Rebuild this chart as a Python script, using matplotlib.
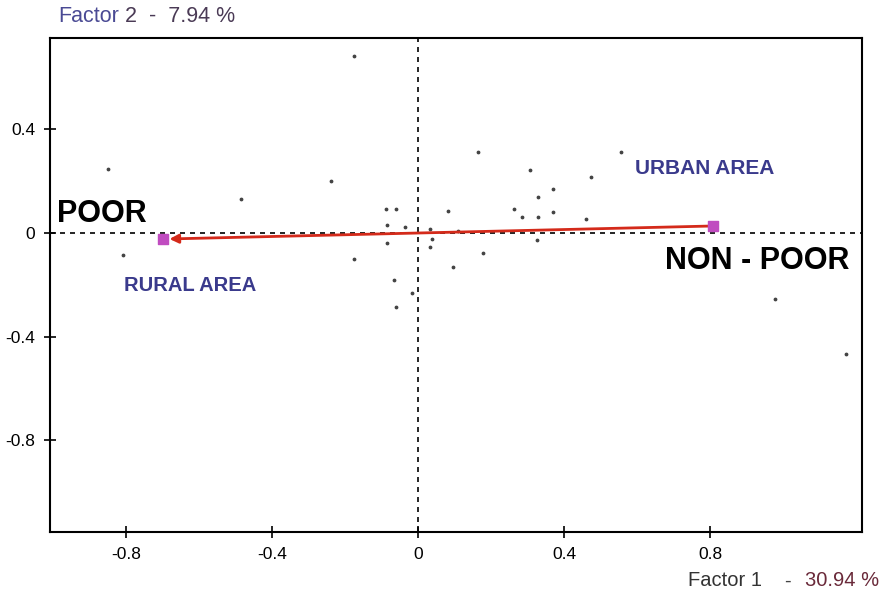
import numpy as np
import matplotlib.pyplot as plt

plt.rcParams["font.family"] = ["Liberation Sans", "DejaVu Sans"]

# supplementary points (factor 1, factor 2)
pts_x = [-0.175, -0.849, -0.485, -0.238, -0.808, 0.164, 0.307, 0.474, 0.370, 0.329,
         -0.088, -0.060, 0.082, 0.263, 0.285, 0.329, 0.370, 0.460, -0.085, -0.036,
         0.033, 0.110, -0.085, 0.038, 0.033, -0.175, 0.178, 0.096, 0.326, -0.066,
         -0.016, -0.060, 0.556, 0.978, 1.173]
pts_y = [0.683, 0.247, 0.131, 0.201, -0.085, 0.312, 0.243, 0.216, 0.170, 0.139,
         0.093, 0.093, 0.085, 0.093, 0.062, 0.062, 0.081, 0.054, 0.031, 0.023,
         0.015, 0.008, -0.039, -0.023, -0.054, -0.100, -0.077, -0.131, -0.027, -0.181,
         -0.231, -0.285, 0.312, -0.255, -0.467]

# active categories
cat_names = ["RURAL AREA", "URBAN AREA"]
cat_x = [-0.699, 0.808]
cat_y = [-0.023, 0.027]

xticks = [-0.8, -0.4, 0, 0.4, 0.8]
yticks = [0.4, 0, -0.4, -0.8]

fig = plt.figure(figsize=(8.87, 5.96), dpi=100)
ax = fig.add_axes([0.0564, 0.1074, 0.9154, 0.8289])
ax.set_xlim(-1.008, 1.216)
ax.set_ylim(-1.153, 0.752)

ax.axhline(0, color="black", ls=(0, (3, 3)), lw=1.2, zorder=1)
ax.axvline(0, color="black", ls=(0, (3, 3)), lw=1.2, zorder=1)

ax.scatter(pts_x, pts_y, s=3, color="#444444", zorder=2)

# arrow from urban to rural
ax.annotate("", xy=(cat_x[0] + 0.018, cat_y[0]), xytext=(cat_x[1], cat_y[1]),
            arrowprops=dict(arrowstyle="-|>", color="#d42a1a", lw=2,
                            mutation_scale=13, shrinkA=0, shrinkB=0), zorder=3)
ax.scatter(cat_x, cat_y, marker="s", s=50, color="#c04cc0", zorder=4)

ax.text(-0.805, -0.224, cat_names[0], color="#3a3a8c", fontsize=14.5, fontweight="bold",
        va="baseline")
ax.text(0.595, 0.228, cat_names[1], color="#3a3a8c", fontsize=15, fontweight="bold",
        va="baseline")
ax.text(-0.989, 0.042, "POOR", color="black", fontsize=22, fontweight="bold", va="baseline")
ax.text(0.677, -0.139, "NON - POOR", color="black", fontsize=22, fontweight="bold",
        va="baseline")

ax.set_xticks(xticks)
ax.set_xticklabels(["-0.8", "-0.4", "0", "0.4", "0.8"])
ax.set_yticks(yticks)
ax.set_yticklabels(["0.4", "0", "-0.4", "-0.8"])
ax.tick_params(direction="inout", length=9, width=1.2, labelsize=12.5, colors="black")
ax.tick_params(axis="x", pad=6)
ax.tick_params(axis="y", pad=6)
for sp in ax.spines.values():
    sp.set_linewidth(1.5)

# axis titles
t2 = fig.text(58 / 887, 1 - 16 / 596, "Factor", color="#4a4a94", fontsize=15.5,
              va="center", ha="left")
fig.canvas.draw()
ax.annotate(" 2  -  7.94 %", xy=(1, 0.5), xycoords=t2, va="center", ha="left",
            color="#4a3a55", fontsize=15.5, annotation_clip=False)

fig.text(688 / 887, 1 - 581 / 596, "Factor 1", color="#333333", fontsize=14.5,
         va="center", ha="left")
fig.text(787 / 887, 1 - 581 / 596, "-", color="#444444", fontsize=14.5,
         va="center", ha="center")
fig.text(879 / 887, 1 - 581 / 596, "30.94 %", color="#6a2a3a", fontsize=14.5,
         va="center", ha="right")

fig.savefig("out.png", dpi=100)
